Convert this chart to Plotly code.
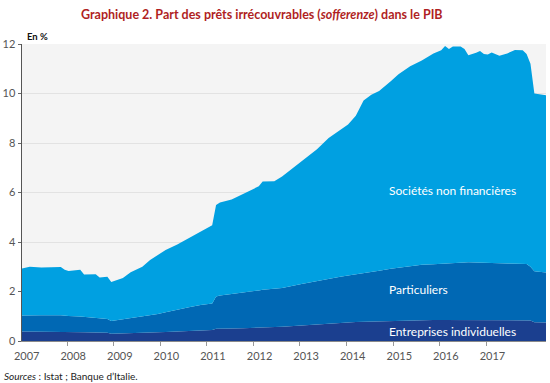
import plotly.graph_objects as go

# months since January 2007
months = [0, 2, 5, 10, 11, 12, 15, 16, 19, 20, 22, 23, 26, 28, 31, 33, 35, 37, 40, 43,
          46, 49, 50, 51, 54, 57, 60, 61, 62, 65, 67, 72, 76, 79, 82, 84, 86, 88, 90, 92,
          95, 97, 100, 103, 106, 108, 109, 110, 111, 113, 114, 115, 117, 118, 119, 120, 121, 123, 125, 127,
          129, 130, 131, 132, 135]

entreprises_individuelles = [0.38, 0.38, 0.38, 0.37, 0.37, 0.36, 0.35, 0.35, 0.34, 0.34, 0.33, 0.29, 0.30, 0.31, 0.32, 0.34, 0.35, 0.36, 0.38, 0.40,
                             0.42, 0.44, 0.49, 0.50, 0.51, 0.52, 0.53, 0.54, 0.54, 0.56, 0.58, 0.63, 0.68, 0.71, 0.73, 0.75, 0.77, 0.78, 0.79, 0.80,
                             0.82, 0.83, 0.84, 0.85, 0.85, 0.85, 0.85, 0.85, 0.85, 0.85, 0.85, 0.85, 0.85, 0.85, 0.85, 0.85, 0.85, 0.85, 0.85, 0.85,
                             0.85, 0.85, 0.83, 0.76, 0.75]

particuliers = [0.65, 0.66, 0.66, 0.67, 0.65, 0.65, 0.64, 0.63, 0.61, 0.59, 0.56, 0.52, 0.58, 0.61, 0.66, 0.69, 0.74, 0.80, 0.89, 0.96,
                1.03, 1.08, 1.31, 1.34, 1.39, 1.43, 1.49, 1.50, 1.53, 1.55, 1.56, 1.67, 1.75, 1.82, 1.87, 1.90, 1.92, 1.95, 2.00, 2.04,
                2.10, 2.13, 2.19, 2.23, 2.25, 2.27, 2.28, 2.29, 2.30, 2.32, 2.33, 2.33, 2.32, 2.31, 2.31, 2.30, 2.30, 2.29, 2.28, 2.27,
                2.26, 2.26, 2.17, 2.06, 2.02]

societes_non_financieres = [1.90, 1.96, 1.93, 1.95, 1.86, 1.82, 1.89, 1.71, 1.75, 1.64, 1.71, 1.57, 1.67, 1.86, 2.02, 2.24, 2.38, 2.52, 2.63, 2.79,
                            2.95, 3.16, 3.70, 3.76, 3.82, 4.00, 4.13, 4.21, 4.37, 4.34, 4.51, 4.95, 5.32, 5.67, 5.95, 6.10, 6.41, 6.99, 7.16, 7.26,
                            7.58, 7.82, 8.07, 8.25, 8.52, 8.63, 8.79, 8.66, 8.75, 8.73, 8.62, 8.37, 8.48, 8.56, 8.44, 8.43, 8.51, 8.39, 8.49, 8.64,
                            8.64, 8.49, 8.20, 7.18, 7.16]

year_labels = ["2007", "2008", "2009", "2010", "2011", "2012", "2013", "2014", "2015", "2016", "2017"]
y_ticks = [0, 2, 4, 6, 8, 10, 12]

series = [
    ("Entreprises individuelles", entreprises_individuelles, "#1b3f8f"),
    ("Particuliers", particuliers, "#0068b4"),
    ("Sociétés non financières", societes_non_financieres, "#00a0e1"),
]

fig = go.Figure()
for name, vals, col in series:
    fig.add_trace(go.Scatter(
        x=months, y=vals, name=name, mode="lines", stackgroup="one",
        line=dict(width=0, color=col), fillcolor=col, hoverinfo="skip",
    ))

font_family = "Lato, Noto Sans, sans-serif"

label_pos = [12 * i + 1.2 for i in range(len(year_labels))]
minor_pos = [12 * i - 0.4 for i in range(1, len(year_labels))]

fig.update_layout(
    width=550, height=383,
    margin=dict(l=22, r=4, t=44, b=42),
    paper_bgcolor="white",
    plot_bgcolor="#f4f4f4",
    showlegend=False,
    hovermode=False,
    font=dict(family=font_family, size=11, color="#555555"),
    title=dict(
        text="Graphique 2. Part des prêts irrécouvrables (<i>sofferenze</i>) dans le PIB",
        x=0.476, xanchor="center", y=0.961, yanchor="middle",
        font=dict(family=font_family, size=12.5, color="#b01f24", weight="bold"),
    ),
    xaxis=dict(
        range=[0, 135], tickmode="array", tickvals=label_pos, ticktext=year_labels,
        ticks="", showgrid=False, zeroline=False, automargin=False,
        ticklabelstandoff=5,
        showline=True, linecolor="#8a8a8a", linewidth=1,
        tickfont=dict(size=11, color="#555555"),
        minor=dict(tickmode="array", tickvals=minor_pos, ticks="outside", ticklen=4,
                   tickcolor="#999999", tickwidth=1, showgrid=False),
    ),
    yaxis=dict(
        range=[0, 12], tickmode="array", tickvals=y_ticks,
        ticks="outside", ticklen=3, tickcolor="#666666", automargin=False,
        showgrid=True, gridcolor="#e2e2e2", gridwidth=1, zeroline=False,
        showline=True, linecolor="#555555", linewidth=1.5,
        tickfont=dict(size=11, color="#555555"),
    ),
)

annots = [
    dict(text="Sociétés non financières", x=94, y=6.1),
    dict(text="Particuliers", x=94, y=2.1),
    dict(text="Entreprises individuelles", x=94, y=0.4),
]
for a in annots:
    fig.add_annotation(
        x=a["x"], y=a["y"], xref="x", yref="y", text=a["text"], showarrow=False,
        xanchor="left", yanchor="middle",
        font=dict(family=font_family, size=12, color="white"),
    )

fig.add_annotation(
    x=0.006, y=1.024, xref="paper", yref="paper", text="<b>En %</b>", showarrow=False,
    xanchor="left", yanchor="middle", font=dict(family=font_family, size=9.5, color="#111111"),
)
fig.add_annotation(
    x=-0.038, y=-0.118, xref="paper", yref="paper",
    text="<i>Sources</i> : Istat ; Banque d’Italie.", showarrow=False,
    xanchor="left", yanchor="middle", font=dict(family=font_family, size=10, color="#222222"),
)

fig.write_html(
    "out.html",
    config={"displayModeBar": False, "staticPlot": True},
    post_script="document.body.style.margin='0';document.body.style.padding='0';document.body.style.overflow='hidden';",
)
